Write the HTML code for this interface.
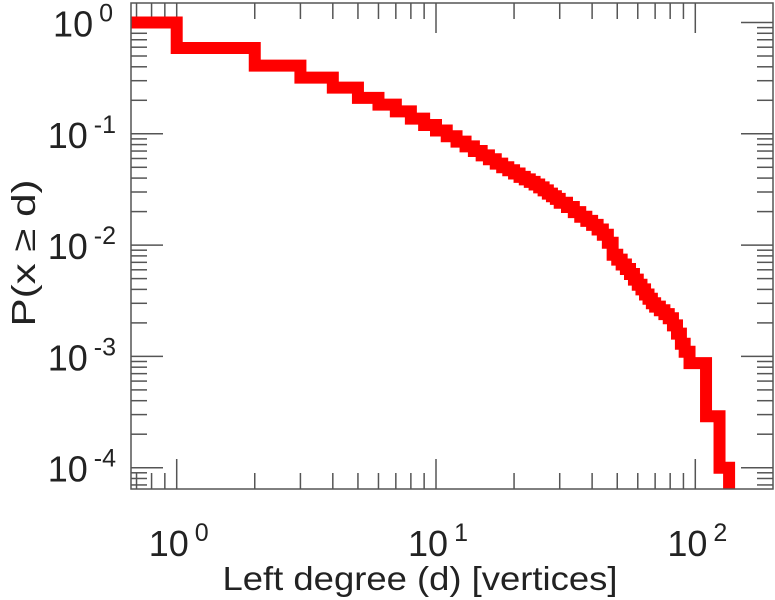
<!DOCTYPE html>
<html><head><meta charset="utf-8"><style>
html,body{margin:0;padding:0;background:#fff;width:775px;height:600px;overflow:hidden}
svg{display:block;font-family:"Liberation Sans",sans-serif}
</style></head><body>
<svg id="chart" width="775" height="600">
<defs><clipPath id="plotclip"><rect x="131" y="3" width="642" height="486"/></clipPath></defs>
<g id="ticks"></g>
<path id="series" fill="none" stroke="#ff0000" stroke-width="12" stroke-linejoin="miter" clip-path="url(#plotclip)"/>
<rect x="131" y="3" width="642" height="486" fill="none" stroke="#555" stroke-width="1.5"/>
<g id="labels" fill="#222"></g>
<text x="420" y="590" font-size="33" text-anchor="middle" textLength="395" lengthAdjust="spacingAndGlyphs" fill="#222">Left degree (d) [vertices]</text>
<text transform="translate(35,253) rotate(-90)" font-size="33" text-anchor="middle" textLength="147" lengthAdjust="spacingAndGlyphs" fill="#222">P(x ≥ d)</text>
</svg>
<script>
const degrees = [1,2,3,4,5,6,7,8,9,10,11,12,13,14,15,16,17,18,19,20,21,22,23,24,25,26,27,28,29,30,32,34,36,38,40,42,44,46,48,50,52,54,56,58,60,62,64,66,68,70,73,76,79,82,85,88,91,95,110,124,135,160];
const ccdf = [1.0,0.59,0.41,0.32,0.26,0.21,0.183,0.159,0.137,0.12,0.107,0.095,0.085,0.077,0.070,0.064,0.059,0.054,0.050,0.047,0.044,0.041,0.039,0.037,0.035,0.033,0.031,0.029,0.0275,0.026,0.024,0.022,0.0198,0.018,0.0165,0.0152,0.0138,0.0124,0.0105,0.0082,0.0074,0.0067,0.0061,0.0055,0.0049,0.0044,0.0040,0.0036,0.0033,0.0030,0.0028,0.0026,0.0024,0.0022,0.0019,0.0016,0.0013,0.0011,0.00087,0.00029,0.00010,0.00004];
const xTickExps = [0,1,2];
const yTickExps = [0,-1,-2,-3,-4];

const L=131,R=773,T=3,B=489;
const x0=176.7, xDec=259.3, y0=22.5, yDec=111.3;
function sx(v){return x0+Math.log10(v)*xDec;}
function sy(v){return y0-Math.log10(v)*yDec;}
const NS='http://www.w3.org/2000/svg';

let d='M'+L+','+sy(ccdf[0]);
for(let i=0;i<degrees.length;i++){
  d+=' L'+sx(degrees[i])+','+sy(ccdf[i]);
  if(i+1<degrees.length) d+=' L'+sx(degrees[i])+','+sy(ccdf[i+1]);
}
d+=' L'+sx(degrees[degrees.length-1])+','+(B+20);
document.getElementById('series').setAttribute('d',d);

const tg=document.getElementById('ticks');
function line(x1,y1,x2,y2,name){
  const l=document.createElementNS(NS,'line');
  l.setAttribute('x1',x1);l.setAttribute('y1',y1);l.setAttribute('x2',x2);l.setAttribute('y2',y2);
  l.setAttribute('stroke','#555');l.setAttribute('stroke-width','1.5');
  
  
  tg.appendChild(l);
}
for(let e=-1;e<=2;e++){
  for(let m=1;m<=9;m++){
    const v=m*Math.pow(10,e); const x=sx(v);
    if(x<L||x>R) continue;
    const len=m===1?30:16;
    line(x,B,x,B-len,'x-tick');
    line(x,T,x,T+len,'x-tick-top');
  }
}
for(let e=-5;e<=0;e++){
  for(let m=1;m<=9;m++){
    const v=m*Math.pow(10,e); const y=sy(v);
    if(y<T||y>B) continue;
    const len=m===1?32:16;
    line(L,y,L+len,y,'y-tick');
    line(R,y,R-len,y,'y-tick-right');
  }
}
const lg=document.getElementById('labels');
function lab(x,y,exp,anchor,name){
  const t=document.createElementNS(NS,'text');
  t.setAttribute('x',x);t.setAttribute('y',y);t.setAttribute('font-size','36');
  t.setAttribute('text-anchor',anchor);
  
  
  t.textContent='10';
  const s=document.createElementNS(NS,'tspan');
  s.setAttribute('font-size','25');s.setAttribute('dy','-15');s.setAttribute('dx','6');
  s.textContent=String(exp);
  t.appendChild(s);
  lg.appendChild(t);
}
xTickExps.forEach(e=>{ lab(sx(Math.pow(10,e))+2,556,e,'middle','x-tick-label'); });
yTickExps.forEach(e=>{ lab(e<0?116:113,sy(Math.pow(10,e))+14,e,'end','y-tick-label'); });
</script>
</body></html>
